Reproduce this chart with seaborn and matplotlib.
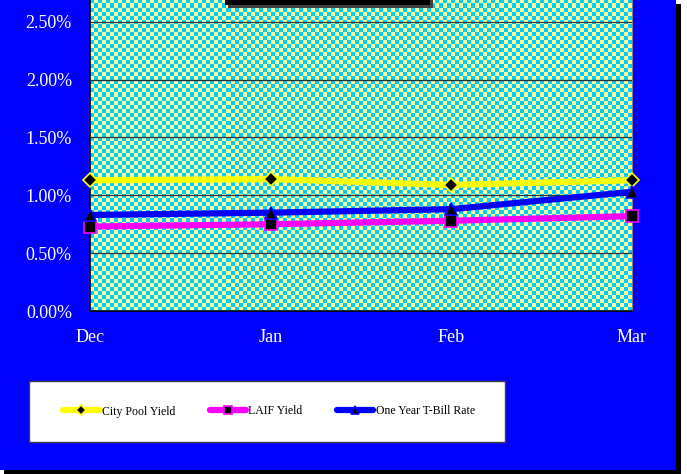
import numpy as np
import pandas as pd
import matplotlib
matplotlib.use("Agg")
import matplotlib.pyplot as plt
from matplotlib.patches import Rectangle
from matplotlib.ticker import FixedLocator, FuncFormatter
import seaborn as sns

# values (percent)
months = ["Dec", "Jan", "Feb", "Mar"]
city_pool = [1.13, 1.14, 1.09, 1.13]
laif = [0.73, 0.75, 0.78, 0.82]
tbill = [0.83, 0.85, 0.88, 1.03]
series_names = ["City Pool Yield", "LAIF Yield", "One Year T-Bill Rate"]
yticks = [0.0, 0.5, 1.0, 1.5, 2.0, 2.5]

sns.set_style("white")
plt.rcParams["font.family"] = ["Liberation Serif", "DejaVu Serif"]

W, H = 687, 474
fig = plt.figure(figsize=(W / 100, H / 100), dpi=100, facecolor="white")

def px_rect(x0, y0, x1, y1, **kw):
    # rectangle in pixel coords measured from the top-left corner
    r = Rectangle((x0 / W, 1 - y1 / H), (x1 - x0) / W, (y1 - y0) / H,
                  transform=fig.transFigure, **kw)
    fig.patches.append(r)
    return r

# blue chart area with a black drop shadow
px_rect(4, 4, 681, 474, facecolor="black", edgecolor="none", zorder=-3)
px_rect(0, 0, 676, 470, facecolor="#0000ff", edgecolor="none", zorder=-2)

# plot area (top runs past the figure edge, as in the cropped reference)
ymax = 3.0
px_per_unit = 115.7
bottom_px = 311
left_px, right_px = 90, 632
ax_h = ymax * px_per_unit
ax = fig.add_axes([left_px / W, (H - bottom_px) / H, (right_px - left_px) / W, ax_h / H])
ax.set_facecolor("#ffff99")

# checkered fill of the plot area
ncol = int((right_px - left_px) / 4)
nrow = int(ax_h / 4)
checker = (np.add.outer(np.arange(nrow), np.arange(ncol)) % 2)
cmap = matplotlib.colors.ListedColormap(["#ffff99", "#00ccff"])
ax.imshow(checker, cmap=cmap, extent=(0, 3, 0, ymax), aspect="auto",
          interpolation="nearest", zorder=0)

df = pd.DataFrame({"Month": months * 3,
                   "Series": np.repeat(series_names, 4),
                   "Value": city_pool + laif + tbill})

styles = {
    "City Pool Yield": dict(color="#ffff00", marker="D", ms=7),
    "LAIF Yield": dict(color="#ff00ff", marker="s", ms=8.5),
    "One Year T-Bill Rate": dict(color="#0000ff", marker="^", ms=8),
}
for name in series_names:
    st = styles[name]
    sns.lineplot(data=df[df["Series"] == name], x="Month", y="Value", ax=ax,
                 sort=False, color=st["color"], lw=4.5, marker=st["marker"],
                 ms=st["ms"], mfc="black", mec=st["color"], mew=1.2,
                 label=name, zorder=3, clip_on=False)

ax.set_xlim(0, 3)
ax.set_ylim(0, ymax)
ax.yaxis.set_major_locator(FixedLocator(yticks))
ax.yaxis.set_major_formatter(FuncFormatter(lambda v, p: f"{v:.2f}%"))
ax.grid(axis="y", color="#303030", lw=0.9, zorder=1)
ax.set_axisbelow(False)
ax.set_xlabel("")
ax.set_ylabel("")
for s in ["left", "bottom"]:
    ax.spines[s].set_color("black")
    ax.spines[s].set_linewidth(1.2)
ax.spines["right"].set_color("#808080")
ax.spines["top"].set_visible(False)
ax.tick_params(axis="both", direction="out", length=5, width=1, color="black",
               labelcolor="white", labelsize=13)
ax.tick_params(axis="y", pad=8)
ax.tick_params(axis="x", pad=8)
ax.get_legend().remove()

# title box (cut off by the top edge)
px_rect(228, -10, 433, 8, facecolor="#404040", edgecolor="none", zorder=4)
px_rect(225, -10, 430, 5, facecolor="black", edgecolor="none", zorder=5)

# legend box
px_rect(29, 381, 505, 442, facecolor="white", edgecolor="#404040", lw=1, zorder=2)
handles, labels = ax.get_legend_handles_labels()
leg = fig.legend(handles, labels, loc="center", ncol=3,
                 bbox_to_anchor=(269 / W, 1 - 411.5 / H), frameon=False,
                 fontsize=8.5, handlelength=3.1, handletextpad=0.2,
                 columnspacing=2.9, markerscale=0.7)
for t in leg.get_texts():
    t.set_color("black")

fig.savefig("out.png", dpi=100, facecolor=fig.get_facecolor())
